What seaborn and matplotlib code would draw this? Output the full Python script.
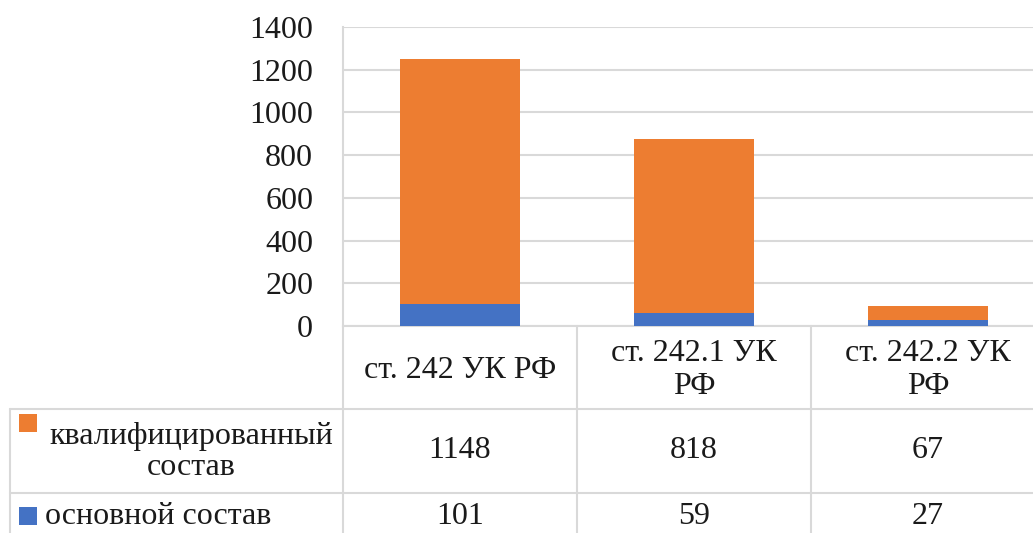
import matplotlib
matplotlib.use("Agg")
import matplotlib.pyplot as plt
import seaborn as sns
import pandas as pd

# Data
categories = ["ст. 242 УК РФ", "ст. 242.1 УК РФ", "ст. 242.2 УК РФ"]
header_labels = ["ст. 242 УК РФ", "ст. 242.1 УК\nРФ", "ст. 242.2 УК\nРФ"]
basic = [101, 59, 27]          # основной состав
qualified = [1148, 818, 67]    # квалифицированный состав
series_names = ["квалифицированный\nсостав", "основной состав"]
y_ticks = [0, 200, 400, 600, 800, 1000, 1200, 1400]

ORANGE = "#ED7D31"
BLUE = "#4472C4"
GRID = "#D9D9D9"
TEXT = "#1a1a1a"

sns.set_theme(style="white")
plt.rcParams["font.family"] = ["Liberation Serif", "DejaVu Serif"]

W, H = 1033, 533
fig = plt.figure(figsize=(W / 100, H / 100), dpi=100)

# Plot area (extends past the right edge of the canvas)
x0, x1 = 343, 1045
y_top, y_zero = 27, 326
ax = fig.add_axes([x0 / W, 1 - y_zero / H, (x1 - x0) / W, (y_zero - y_top) / H])

df = pd.DataFrame({
    "cat": categories,
    "basic": basic,
    "total": [b + q for b, q in zip(basic, qualified)],
})

# Stacked bars: full height in orange, base segment in blue on top of it
sns.barplot(data=df, x="cat", y="total", color=ORANGE, saturation=1,
            width=0.51, ax=ax, zorder=3, linewidth=0)
sns.barplot(data=df, x="cat", y="basic", color=BLUE, saturation=1,
            width=0.51, ax=ax, zorder=4, linewidth=0)

fs = 23
ax.set_xlim(-0.5, 2.5)
ax.set_ylim(0, 1400)
ax.set_yticks(y_ticks)
ax.set_yticklabels([str(t) for t in y_ticks], fontsize=fs, color=TEXT)
ax.tick_params(axis="y", length=0, pad=21.5)
ax.set_xticks([])
ax.set_xlabel("")
ax.set_ylabel("")
ax.yaxis.grid(True, color=GRID, linewidth=1.5, zorder=0)
ax.set_axisbelow(True)
for side in ["top", "right"]:
    ax.spines[side].set_visible(False)
for side in ["left", "bottom"]:
    ax.spines[side].set_color(GRID)
    ax.spines[side].set_linewidth(1.5)

# Data table under the plot, sharing the category axis
tab_h = H - y_zero
tab = fig.add_axes([x0 / W, 0, (x1 - x0) / W, tab_h / H], sharex=ax)
tab.set_ylim(tab_h, 0)
tab.axis("off")

row1, row2 = 83, 167
left_edge = -0.5 - (x0 - 10) / ((x1 - x0) / 3)
line_kw = dict(color=GRID, linewidth=1.5, clip_on=False)

for xv in [-0.5, 0.5, 1.5, 2.5]:
    tab.plot([xv, xv], [0, tab_h], **line_kw)
tab.plot([left_edge, left_edge], [row1, tab_h], **line_kw)
tab.plot([left_edge, 2.5], [row1, row1], **line_kw)
tab.plot([left_edge, 2.5], [row2, row2], **line_kw)

for i, lab in enumerate(header_labels):
    tab.text(i, 44, lab, ha="center", va="center", fontsize=fs,
             color=TEXT, linespacing=1.17)
for i, v in enumerate(qualified):
    tab.text(i, 125, str(v), ha="center", va="center", fontsize=fs, color=TEXT)
for i, v in enumerate(basic):
    tab.text(i, 190, str(v), ha="center", va="center", fontsize=fs, color=TEXT)

# Legend keys inside the row headers
unit = (x1 - x0) / 3
def px_to_x(px):
    return -0.5 + (px - x0) / unit

tab.scatter([px_to_x(28)], [97], marker="s", s=150, color=ORANGE,
            clip_on=False, linewidths=0)
tab.scatter([px_to_x(28)], [190], marker="s", s=150, color=BLUE,
            clip_on=False, linewidths=0)
tab.text(px_to_x(191), 126, series_names[0], ha="center", va="center",
         fontsize=fs, color=TEXT, linespacing=1.1)
tab.text(px_to_x(45), 190, series_names[1], ha="left", va="center",
         fontsize=fs, color=TEXT)

fig.savefig("out.png", dpi=100)
